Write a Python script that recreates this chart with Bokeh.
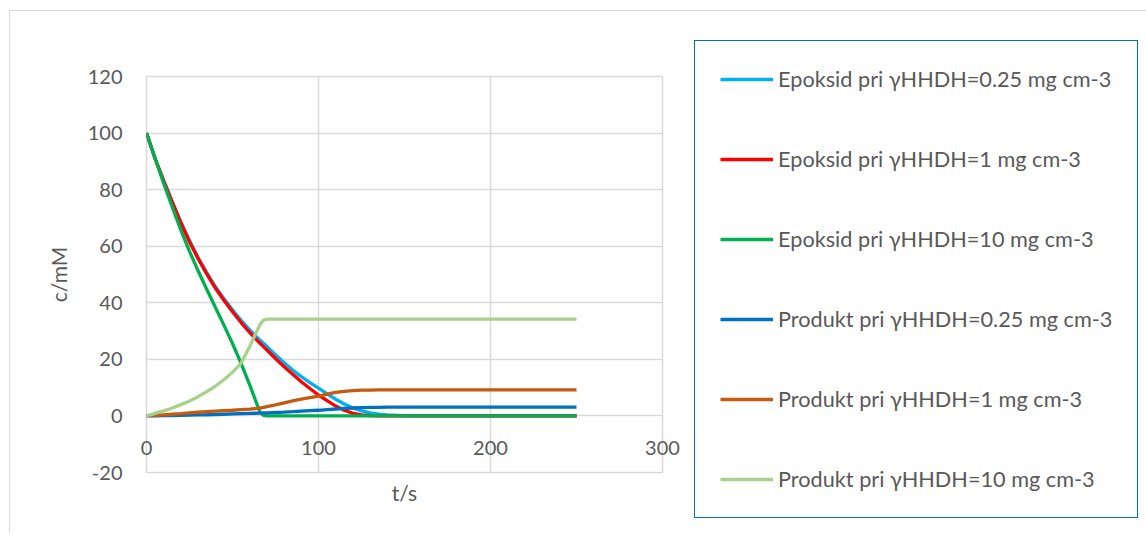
from bokeh.plotting import figure
from bokeh.models import Legend, LegendItem, FixedTicker, Range1d
from bokeh.embed import file_html
from bokeh.resources import INLINE

# ---- data ----
t = [0, 5, 10, 15, 20, 25, 30, 35, 40, 45, 50, 55, 60, 63, 66, 68, 70,
     75, 80, 85, 90, 95, 100, 105, 110, 115, 120, 125, 130, 135, 140,
     150, 160, 170, 180, 200, 225, 250]

epoksid_025 = [100, 91, 83.2, 75.8, 68.6, 62.0, 56.1, 50.8, 45.8, 41.5, 37.5, 33.8, 30.4, 28.5, 26.8, 25.7, 24.6,
               21.6, 18.8, 16.2, 13.9, 11.8, 9.8, 7.8, 5.9, 4.2, 2.8, 1.8, 1.1, 0.65, 0.4,
               0.12, 0.03, 0, 0, 0, 0, 0]
epoksid_1 = [100, 91, 83, 75.5, 68.2, 61.5, 55.6, 50.2, 45.2, 40.9, 36.8, 33.0, 29.5, 27.5, 25.7, 24.5, 23.3,
             20.3, 17.4, 14.7, 12.1, 9.7, 7.4, 5.4, 3.5, 2.0, 0.9, 0.35, 0.1, 0, 0,
             0, 0, 0, 0, 0, 0, 0]
epoksid_10 = [100, 91.0, 82.2, 73.8, 65.7, 58.2, 51.3, 44.8, 38.4, 32.1, 25.6, 18.6, 11.0, 6.1, 1.3, 0.2, 0,
              0, 0, 0, 0, 0, 0, 0, 0, 0, 0, 0, 0, 0, 0,
              0, 0, 0, 0, 0, 0, 0]
produkt_025 = [0, 0.05, 0.1, 0.15, 0.2, 0.28, 0.35, 0.42, 0.5, 0.6, 0.7, 0.8, 0.9, 0.95, 1.0, 1.05, 1.1,
               1.22, 1.35, 1.5, 1.7, 1.85, 2.0, 2.25, 2.45, 2.65, 2.8, 2.92, 3.0, 3.05, 3.1,
               3.1, 3.1, 3.1, 3.1, 3.1, 3.1, 3.1]
produkt_1 = [0, 0.2, 0.4, 0.6, 0.8, 1.05, 1.3, 1.5, 1.7, 1.85, 2.0, 2.2, 2.4, 2.6, 2.8, 3.0, 3.3,
             3.9, 4.6, 5.3, 5.9, 6.5, 7.0, 7.7, 8.3, 8.7, 8.95, 9.1, 9.15, 9.2, 9.2,
             9.2, 9.2, 9.2, 9.2, 9.2, 9.2, 9.2]
produkt_10 = [0, 0.9, 1.8, 2.8, 4.0, 5.3, 6.8, 8.6, 10.5, 12.8, 15.4, 18.7, 24.5, 28.5, 32.3, 33.8, 34.2,
              34.2, 34.2, 34.2, 34.2, 34.2, 34.2, 34.2, 34.2, 34.2, 34.2, 34.2, 34.2, 34.2, 34.2,
              34.2, 34.2, 34.2, 34.2, 34.2, 34.2, 34.2]

series_names = [
    "Epoksid pri γHHDH=0.25 mg cm-3",
    "Epoksid pri γHHDH=1 mg cm-3",
    "Epoksid pri γHHDH=10 mg cm-3",
    "Produkt pri γHHDH=0.25 mg cm-3",
    "Produkt pri γHHDH=1 mg cm-3",
    "Produkt pri γHHDH=10 mg cm-3",
]
series_values = [epoksid_025, epoksid_1, epoksid_10, produkt_025, produkt_1, produkt_10]
series_colors = ["#00B0F0", "#FF0000", "#00B050", "#0070C0", "#C55A11", "#A9D18E"]

x_ticks = [0, 100, 200, 300]
y_ticks = [-20, 0, 20, 40, 60, 80, 100, 120]

FONT = "Lato"
TXT = "#595959"
GRID = "#d9d9d9"

p = figure(frame_width=516, frame_height=396,
           min_border_left=136, min_border_right=482,
           min_border_top=65, min_border_bottom=60,
           x_range=Range1d(0, 300), y_range=Range1d(-20, 120),
           output_backend="svg", toolbar_location=None)
p.styles = {"margin-left": "9px", "margin-top": "10px",
            "border-top": "1px solid #d9d9d9", "border-left": "1px solid #d9d9d9"}

p.outline_line_color = GRID
p.outline_line_width = 1.5
p.xgrid.ticker = FixedTicker(ticks=x_ticks)
p.ygrid.ticker = FixedTicker(ticks=y_ticks)
p.grid.grid_line_color = GRID
p.grid.grid_line_width = 1.5

p.xaxis.ticker = FixedTicker(ticks=x_ticks)
p.yaxis.ticker = FixedTicker(ticks=y_ticks)
p.yaxis.major_label_overrides = {v: str(v) for v in y_ticks}
for ax in (p.xaxis[0], p.yaxis[0]):
    ax.axis_line_color = None
    ax.major_tick_line_color = None
    ax.minor_tick_line_color = None
    ax.major_label_text_font = FONT
    ax.major_label_text_font_size = "20px"
    ax.major_label_text_color = TXT
    ax.axis_label_text_font = FONT
    ax.axis_label_text_font_size = "21px"
    ax.axis_label_text_color = TXT
    ax.axis_label_text_font_style = "normal"

p.xaxis.axis_label = "t/s"
p.yaxis.axis_label = "c/mM"
p.yaxis.major_label_standoff = 18
p.yaxis.axis_label_standoff = 14
p.xaxis.major_label_standoff = -38
p.xaxis.axis_label_standoff = 22

items = []
for name, vals, col in zip(series_names, series_values, series_colors):
    r = p.line(t, vals, line_color=col, line_width=3.3)
    items.append(LegendItem(label=name, renderers=[r]))

legend = Legend(items=items, location=(32, -46),
                label_text_font=FONT, label_text_font_size="21.7px",
                label_text_color=TXT,
                glyph_width=53, glyph_height=26, label_height=26,
                label_standoff=5, spacing=54, padding=25, margin=0,
                border_line_color="#0070C0", border_line_width=1.5,
                border_line_alpha=1.0,
                background_fill_color="white", background_fill_alpha=1)
p.add_layout(legend, "right")

open("out.html", "w").write(file_html(p, INLINE))
